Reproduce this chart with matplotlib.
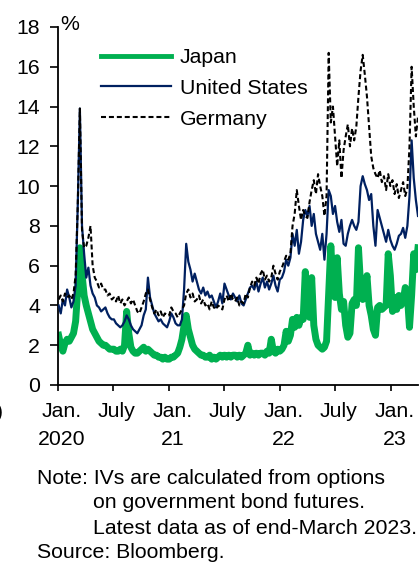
import matplotlib
matplotlib.use("Agg")
import matplotlib.pyplot as plt
import pandas as pd

# --- data: weekly (Friday) implied volatility of bond futures options, % ---
dates = pd.date_range("2020-01-03", "2023-03-31", freq="W-FRI")

japan = [
    2.5, 2.0, 1.7, 2.1, 2.3,   2.2, 2.4, 2.6, 3.2,   4.8, 6.9, 5.6, 4.5,   # 2020 Jan-Mar
    4.0, 3.6, 3.2, 2.8,   2.6, 2.4, 2.2, 2.1, 2.0,   2.0, 1.9, 1.8, 1.8,   # Apr-Jun
    1.8, 1.7, 1.7, 1.8, 1.7,   2.0, 3.7, 2.6, 1.9,   1.7, 1.6, 1.6, 1.7,   # Jul-Sep
    1.8, 1.9, 1.7, 1.8, 1.7,   1.6, 1.5, 1.5, 1.4,   1.4, 1.3, 1.4, 1.3,   # Oct-Dec
    1.3, 1.4, 1.4, 1.5, 1.6,   1.9, 2.3, 3.0, 3.5,   2.8, 2.4, 2.0, 1.8,   # 2021 Jan-Mar
    1.7, 1.6, 1.5, 1.5, 1.4,   1.4, 1.5, 1.3, 1.4,   1.3, 1.4, 1.5, 1.4,   # Apr-Jun
    1.5, 1.4, 1.5, 1.4, 1.5,   1.5, 1.4, 1.5, 1.4,   1.5, 1.6, 2.0, 1.5,   # Jul-Sep
    1.6, 1.5, 1.6, 1.5, 1.6,   1.6, 1.5, 1.7, 1.6,   2.3, 1.7, 1.6, 1.8, 1.7,  # Oct-Dec
    1.8, 2.0, 2.7, 2.2,   2.5, 3.3, 2.9, 3.4,   3.0, 3.4, 3.3, 5.7,   # 2022 Jan-Mar
    3.6, 3.4, 5.4, 3.0, 2.3,   2.0, 1.9, 1.8, 1.9,   2.2, 4.6, 7.0, 5.2,   # Apr-Jun
    4.4, 6.4, 4.6, 3.8, 4.2,   3.0, 2.4, 2.6, 4.1,   4.3, 4.0, 6.9, 5.0, 4.3,  # Jul-Sep
    4.8, 5.5, 4.0, 3.5,   2.8, 2.5, 3.9, 4.0,   3.8, 3.9, 4.0, 6.6, 5.5,   # Oct-Dec
    3.7, 4.4, 3.8, 4.5,   4.0, 4.2, 4.9, 4.5,   2.9, 4.5, 6.6, 5.8, 6.9,   # 2023 Jan-Mar
]

united_states = [
    4.0, 3.6, 4.3, 4.0, 4.8,   4.4, 3.9, 4.2, 5.0,   9.0, 13.9, 8.0, 6.6,
    5.4, 5.9, 5.0, 4.6,   4.4, 4.0, 3.9, 3.7, 3.8,   3.9, 3.6, 3.4, 3.3,
    3.3, 3.1, 3.0, 2.9, 3.0,   3.2, 3.5, 3.3, 3.0,   2.8, 2.7, 2.6, 2.8,
    3.0, 3.5, 3.8, 5.4, 4.4,   4.0, 3.6, 3.4, 3.2,   3.3, 3.1, 3.0, 2.9,
    3.2, 3.6, 3.4, 3.1, 3.0,   3.0, 3.3, 4.8, 7.1,   6.2, 5.8, 5.2, 5.6,
    5.2, 4.8, 4.6, 4.9, 4.5,   4.7, 4.4, 4.5, 4.2,   3.9, 4.2, 4.6, 4.1,
    5.1, 4.8, 4.5, 4.3, 4.6,   4.4, 4.2, 4.5, 4.1,   4.0, 4.3, 4.6, 4.9,
    5.0, 4.8, 5.2, 4.7, 5.1,   5.4, 4.9, 5.2, 4.8,   5.1, 5.5, 5.0, 4.7, 5.3,
    5.4, 5.7, 6.3, 6.0,   6.4, 7.6, 7.0, 7.8,   6.6, 7.2, 8.3, 8.8,
    8.5, 9.0, 8.0, 8.6, 7.6,   7.2, 6.8, 7.6, 6.3,   7.6, 9.8, 9.5, 8.6,
    9.0, 8.2, 7.7, 8.3, 7.1,   7.0, 7.6, 8.0, 8.3,   8.0, 7.8, 8.2, 10.0, 10.5,
    10.1, 9.8, 9.3, 9.6,   8.0, 7.0, 8.8, 8.4,   8.0, 7.6, 7.2, 7.8, 7.3,
    7.0, 6.8, 7.1, 7.5,   7.6, 7.9, 7.4, 8.0,   9.5, 12.3, 10.4, 9.3, 8.5,
]

germany = [
    4.3, 4.5, 4.2, 4.6, 4.4,   4.5, 4.3, 4.6, 5.5,   9.0, 13.9, 7.8, 6.9,
    7.0, 7.4, 8.0, 6.0,   5.4, 5.2, 4.9, 5.1, 4.8,   4.8, 4.5, 4.6, 4.3,
    4.4, 4.2, 4.5, 4.1, 4.3,   4.0, 4.2, 4.4, 4.1,   4.3, 4.0, 3.7, 3.6,
    3.9, 4.2, 4.6, 4.8, 4.3,   3.9, 3.6, 3.8, 3.5,   3.7, 3.4, 3.6, 3.5,
    3.5, 3.9, 3.7, 3.6, 3.4,   3.6, 3.8, 4.0, 4.6,   4.8, 4.4, 4.6, 4.2,
    4.3, 4.5, 4.1, 4.3, 4.0,   4.1, 3.8, 4.2, 3.9,   3.8, 4.0, 3.9, 3.8,
    4.3, 4.5, 4.2, 4.6, 4.3,   4.2, 4.4, 4.0, 4.2,   4.1, 4.6, 4.4, 4.9,
    5.2, 5.0, 5.4, 5.1, 5.6,   5.8, 5.3, 5.5, 5.2,   5.4, 6.0, 5.6, 5.3, 5.7,
    5.9, 6.2, 6.5, 6.3,   6.6, 8.0, 8.6, 9.8,   9.0, 8.3, 8.8, 8.5,
    8.4, 9.2, 9.8, 10.3, 9.6,   10.6, 10.0, 9.5, 8.5,   9.5, 16.7, 13.2, 14.0,
    12.5, 11.0, 12.3, 10.4, 11.8,   12.5, 13.1, 12.0, 12.9,   12.3, 13.0, 14.5, 15.8, 16.6,
    15.6, 14.5, 13.0, 11.5,   10.9, 10.6, 10.4, 10.8,   10.2, 10.5, 9.8, 10.6, 10.0,
    10.3, 9.6, 10.1, 9.4,   9.8, 10.2, 9.5, 9.9,   12.0, 16.0, 14.0, 12.5, 13.5,
]

series_names = ["Japan", "United States", "Germany"]
yticks = list(range(0, 20, 2))
month_ticks = pd.date_range("2020-01-01", "2023-01-01", freq="6MS")
month_labels = ["Jan.\n2020", "July", "Jan.\n21", "July", "Jan.\n22", "July", "Jan.\n23"]
note_lines = ["Note: IVs are calculated from options",
              "on government bond futures.",
              "Latest data as of end-March 2023."]
source = "Source: Bloomberg."

GREEN = "#00b050"
NAVY = "#002060"
FS = 15.3

plt.rcParams.update({
    "font.family": ["Liberation Sans", "DejaVu Sans"],
    "font.size": FS,
})

W, H = 419, 564
fig = plt.figure(figsize=(W / 100, H / 100), dpi=100)
ax = fig.add_axes([58 / W, 1 - 385 / H, 360 / W, 358 / H])

ax.plot(dates, japan, color=GREEN, lw=5.0, solid_joinstyle="round", label=series_names[0], zorder=2)
ax.plot(dates, united_states, color=NAVY, lw=1.6, label=series_names[1], zorder=3)
ax.plot(dates, germany, color="black", lw=1.5, linestyle=(0, (2.4, 1.4)),
        label=series_names[2], zorder=4)

ax.set_xlim(pd.Timestamp("2020-01-01"), pd.Timestamp("2023-03-31"))
ax.set_ylim(0, 18)
ax.set_yticks(yticks)
ax.tick_params(axis="y", direction="out", length=6, width=1.2, pad=7, labelsize=FS)

# ticks at month starts, labels centred a little later in the month
ax.set_xticks(month_ticks)
ax.set_xticklabels([])
ax.tick_params(axis="x", which="major", direction="out", length=4, width=1.2)
ax.set_xticks(month_ticks + pd.Timedelta(days=12), minor=True)
ax.set_xticklabels(month_labels, minor=True, linespacing=1.6)
ax.tick_params(axis="x", which="minor", length=0, pad=12, labelsize=FS)

for s in ["top", "right"]:
    ax.spines[s].set_visible(False)
for s in ["left", "bottom"]:
    ax.spines[s].set_linewidth(1.3)

leg = ax.legend(loc="upper left", bbox_to_anchor=(101 / W, 1 - 48 / H),
                bbox_transform=fig.transFigure, frameon=False, fontsize=FS,
                handlelength=3.3, handletextpad=0.4, labelspacing=0.56,
                borderpad=0, borderaxespad=0)
leg.get_lines()[0].set_linewidth(3.5)

fig.text(60 / W, 1 - 30 / H, "%", fontsize=FS, va="baseline")
fig.text(3 / W, 1 - 412 / H, ")", fontsize=FS, ha="right", va="center")

fig.text(37 / W, 1 - 478 / H, note_lines[0], fontsize=FS, va="center")
fig.text(93 / W, 1 - 503 / H, note_lines[1], fontsize=FS, va="center")
fig.text(93 / W, 1 - 528 / H, note_lines[2], fontsize=FS, va="center")
fig.text(37 / W, 1 - 553 / H, source, fontsize=FS, va="center")

fig.savefig("out.png", dpi=100)
